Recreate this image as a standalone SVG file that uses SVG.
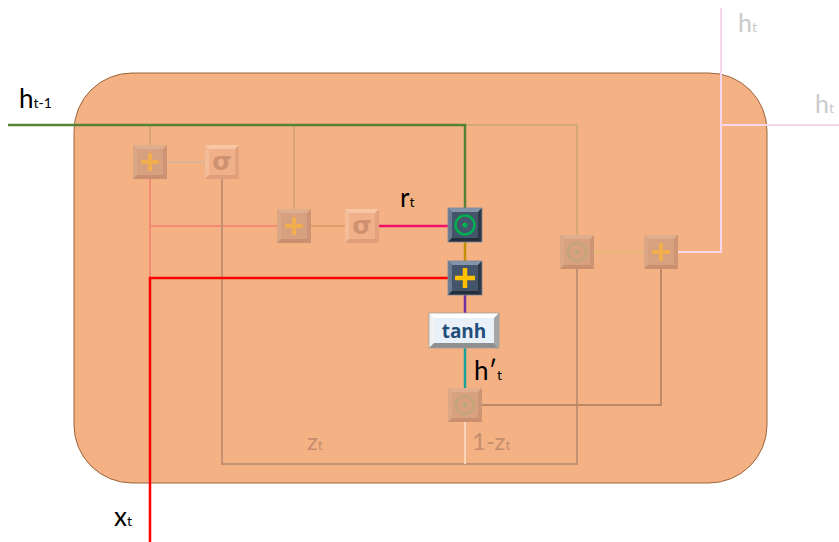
<svg xmlns="http://www.w3.org/2000/svg" xmlns:xlink="http://www.w3.org/1999/xlink" width="839" height="542" viewBox="0 0 839 542">
<style>
.lbl{font-family:Lato,"Open Sans","Liberation Sans",sans-serif;fill:#000}
.sub{font-size:14px}
.fade{fill:#C48E6E}
.grey{fill:#CACACA}
.ln{fill:none;stroke-linejoin:miter;stroke-linecap:butt}
</style>
<defs>
<g id="bevDark">
<rect x="-17" y="-17" width="34" height="34" fill="#44546A"/>
<polygon points="-17,-17 17,-17 13,-13 -13,-13" fill="#8494AA"/>
<polygon points="-17,-17 -13,-13 -13,13 -17,17" fill="#6A7A90"/>
<polygon points="17,-17 17,17 13,13 13,-13" fill="#2E3947"/>
<polygon points="-17,17 17,17 13,13 -13,13" fill="#252E3B"/>
<rect x="-17" y="-17" width="34" height="34" fill="none" stroke="#7A889C" stroke-width="0.8"/>
</g>
<g id="bevFade">
<rect x="-17" y="-17" width="34" height="34" fill="#D7A07F"/>
<polygon points="-17,-17 17,-17 13,-13 -13,-13" fill="#E0AE8C"/>
<polygon points="-17,-17 -13,-13 -13,13 -17,17" fill="#DCA787"/>
<polygon points="17,-17 17,17 13,13 13,-13" fill="#CD9574"/>
<polygon points="-17,17 17,17 13,13 -13,13" fill="#C98F6F"/>
</g>
<g id="bevSig">
<rect x="-17" y="-17" width="34" height="34" fill="#F0B08A"/>
<polygon points="-17,-17 17,-17 13,-13 -13,-13" fill="#F7C6A5"/>
<polygon points="-17,-17 -13,-13 -13,13 -17,17" fill="#F4BD99"/>
<polygon points="17,-17 17,17 13,13 13,-13" fill="#E3A27E"/>
<polygon points="-17,17 17,17 13,13 -13,13" fill="#DE9E7A"/>
<text x="0" y="8" text-anchor="middle" font-family="'DejaVu Sans',sans-serif" font-weight="bold" font-size="25" fill="#CF9270">σ</text>
</g>
<g id="plusFade">
<path d="M-9,0H9M0,-9V9" stroke="#F2AE4E" stroke-width="4" fill="none"/>
</g>
<g id="odotFade">
<circle r="9" fill="none" stroke="#BDA874" stroke-width="2"/>
<circle r="2.3" fill="#BDA874"/>
</g>
</defs>

<rect id="cell" x="74" y="73" width="693" height="410" rx="58" ry="58" fill="#F4B183" stroke="#9A643C" stroke-width="1"/>

<g id="connectors" class="ln">
<polyline points="465,125 577,125 577,235" stroke="#D4A872" stroke-width="2"/>
<line x1="150" y1="125" x2="150" y2="145" stroke="#D4A872" stroke-width="2"/>
<line x1="294" y1="125" x2="294" y2="209" stroke="#D4A872" stroke-width="2"/>
<line x1="167" y1="162" x2="205" y2="162" stroke="#D9B497" stroke-width="2"/>
<line x1="150" y1="179" x2="150" y2="278" stroke="#F58A72" stroke-width="2"/>
<line x1="150" y1="226" x2="277" y2="226" stroke="#F58A72" stroke-width="2"/>
<polyline points="222,179 222,464 577,464 577,269" stroke="#C29072" stroke-width="2"/>
<line x1="311" y1="226" x2="345" y2="226" stroke="#E29C6C" stroke-width="2"/>
<line x1="378" y1="226" x2="448" y2="226" stroke="#EE1367" stroke-width="2.5"/>
<line x1="465" y1="242" x2="465" y2="261" stroke="#BF9000" stroke-width="2.5"/>
<line x1="465" y1="295" x2="465" y2="313" stroke="#7030A0" stroke-width="2.5"/>
<line x1="465" y1="348" x2="465" y2="388" stroke="#1BA39B" stroke-width="2.5"/>
<line x1="465" y1="422" x2="465" y2="464" stroke="#F9D4BA" stroke-width="2"/>
<polyline points="482,405 661,405 661,269" stroke="#BD8866" stroke-width="2"/>
<line x1="593" y1="252" x2="644" y2="252" stroke="#E8B878" stroke-width="2"/>
<polyline points="678,252 721,252 721,8" stroke="#F8D6EA" stroke-width="2"/>
<line x1="721" y1="125" x2="839" y2="125" stroke="#F8D6EA" stroke-width="2"/>
<polyline points="8,125 465,125 465,208" stroke="#548235" stroke-width="2.5"/>
<polyline points="150,542 150,278 448,278" stroke="#FF0000" stroke-width="2.5"/>
</g>

<g id="plus1" transform="translate(150,162)"><use xlink:href="#bevFade"/><use xlink:href="#plusFade"/></g>
<g id="sigma1" transform="translate(222,162)"><use xlink:href="#bevSig"/></g>
<g id="plus2" transform="translate(294,226)"><use xlink:href="#bevFade"/><use xlink:href="#plusFade"/></g>
<g id="sigma2" transform="translate(362,226)"><use xlink:href="#bevSig"/></g>
<g id="odot_r" transform="translate(465,225)"><use xlink:href="#bevDark"/>
<circle r="9.5" fill="none" stroke="#00B050" stroke-width="2.5"/><circle r="2.6" fill="#00B050"/></g>
<g id="plus_x" transform="translate(465,278)"><use xlink:href="#bevDark"/>
<path d="M-10,0H10M0,-10V10" stroke="#FFC000" stroke-width="4.5" fill="none"/></g>
<g id="tanh">
<rect x="429" y="313" width="70" height="35" fill="#EAF0F7"/>
<polygon points="429,313 499,313 494,318 434,318" fill="#FFFFFF"/>
<polygon points="429,313 434,318 434,343 429,348" fill="#F2F2F2"/>
<polygon points="499,313 499,348 494,343 494,318" fill="#A6A6A6"/>
<polygon points="429,348 499,348 494,343 434,343" fill="#8F8F8F"/>
<rect x="429" y="313" width="70" height="35" fill="none" stroke="#A0A0A0" stroke-width="0.8"/>
<text x="464" y="338" text-anchor="middle" font-family="'Open Sans',Lato,'Liberation Sans',sans-serif" font-weight="bold" font-size="19" fill="#1F4E79">tanh</text>
</g>
<g id="odot_h" transform="translate(465,405)"><use xlink:href="#bevFade"/><use xlink:href="#odotFade"/></g>
<g id="odot_z" transform="translate(577,252)"><use xlink:href="#bevFade"/><use xlink:href="#odotFade"/></g>
<g id="plus_out" transform="translate(661,252)"><use xlink:href="#bevFade"/><use xlink:href="#plusFade"/></g>

<g id="labels">
<text class="lbl" x="19" y="108" font-size="26">h<tspan class="sub">t-1</tspan></text>
<text class="lbl" x="400" y="207" font-size="26">r<tspan class="sub">t</tspan></text>
<text class="lbl" x="114" y="526" font-size="26">x<tspan class="sub">t</tspan></text>
<text class="lbl" x="474" y="380" font-size="26">h′<tspan class="sub">t</tspan></text>
<text class="lbl fade" x="307" y="450" font-size="24">z<tspan class="sub">t</tspan></text>
<text class="lbl fade" x="472" y="450" font-size="24">1-z<tspan class="sub">t</tspan></text>
<text class="lbl grey" x="738" y="32" font-size="25">h<tspan class="sub">t</tspan></text>
<text class="lbl grey" x="815" y="113" font-size="25">h<tspan class="sub">t</tspan></text>
</g>
</svg>
